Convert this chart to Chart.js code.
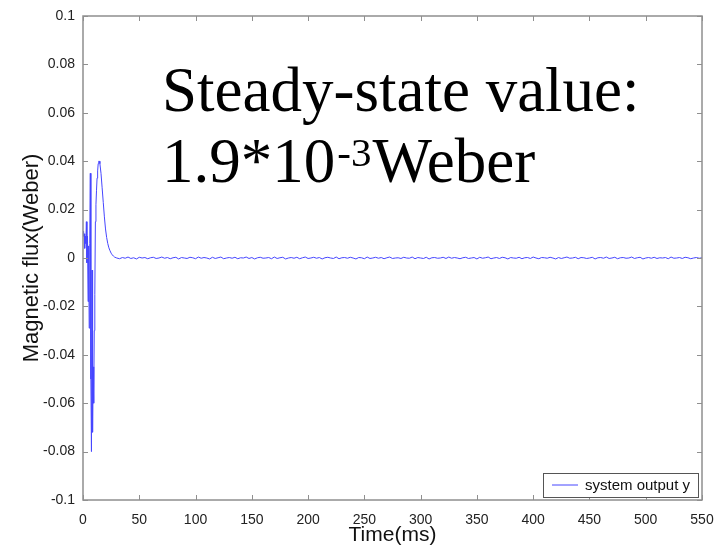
<!DOCTYPE html>
<html>
<head>
<meta charset="utf-8">
<script src="https://cdn.jsdelivr.net/npm/chart.js@4.4.1/dist/chart.umd.min.js"></script>
<style>
  html, body { margin: 0; padding: 0; background: #fff; }
  #wrap { width: 721px; height: 550px; }
</style>
</head>
<body>
<div id="wrap"><canvas id="chart" width="721" height="550"></canvas></div>
<script>
// transient part (ms, Weber)
const transientTime = [0, 0.5, 1, 1.5, 2, 2.5, 3, 3.5, 4, 4.5, 5, 5.5, 6, 6.5, 7, 7.5, 8, 8.5, 9, 9.5,
  10, 10.5, 11, 11.5, 12, 12.5, 13, 13.5, 14, 14.5, 15, 16, 17, 18, 19, 20, 21, 22, 23, 24, 25, 26, 27, 28];
const transientFlux = [0.011, 0.009, 0.010, 0.004, 0.009, 0.006, 0.015, -0.002, 0.009, -0.018,
  0.005, -0.029, 0.006, 0.035, -0.050, -0.080, -0.005, -0.072, -0.045, -0.060,
  -0.030, -0.015, 0.015, 0.022, 0.028, 0.033, 0.036, 0.039, 0.040, 0.040,
  0.039, 0.035, 0.029, 0.023, 0.017, 0.012, 0.0085, 0.006, 0.0042, 0.003, 0.002, 0.0013, 0.0008, 0.0004];

// steady part, one value every 2.5 ms from 30 ms
const steadyStart = 30;
const steadyStep = 2.5;
const steadyFlux = [
  0.0000, -0.0003, 0.0002, -0.0001, 0.0004, -0.0002, 0.0001, -0.0004, 0.0003, 0.0000,
  0.0002, -0.0003, 0.0001, 0.0003, -0.0002, 0.0000, 0.0004, -0.0001, 0.0002, -0.0003,
  0.0001, 0.0003, -0.0004, 0.0002, 0.0000, -0.0002, 0.0003, 0.0001, -0.0003, 0.0004,
  -0.0001, 0.0002, 0.0000, -0.0004, 0.0003, -0.0002, 0.0001, 0.0004, -0.0003, 0.0000,
  0.0002, -0.0001, 0.0003, -0.0003, 0.0001, 0.0000, 0.0004, -0.0002, 0.0002, -0.0004,
  0.0001, 0.0003, -0.0001, 0.0000, 0.0002, -0.0003, 0.0004, -0.0002, 0.0001, 0.0003,
  -0.0004, 0.0000, 0.0002, -0.0001, 0.0003, -0.0003, 0.0001, 0.0004, -0.0002, 0.0000,
  0.0003, -0.0001, 0.0002, -0.0004, 0.0001, 0.0003, 0.0000, -0.0002, 0.0004, -0.0003,
  0.0001, 0.0002, -0.0001, 0.0003, 0.0000, -0.0004, 0.0002, 0.0001, -0.0003, 0.0004,
  -0.0002, 0.0000, 0.0003, -0.0001, 0.0002, -0.0003, 0.0001, 0.0004, -0.0002, 0.0000,
  0.0001, -0.0002, 0.0003, 0.0000, -0.0001, 0.0004, -0.0003, 0.0002, 0.0000, -0.0002,
  0.0003, -0.0004, 0.0001, 0.0002, -0.0001, 0.0000, 0.0003, -0.0002, 0.0004, -0.0001,
  0.0002, 0.0000, -0.0003, 0.0001, 0.0003, -0.0002, 0.0000, 0.0002, -0.0004, 0.0003,
  -0.0001, 0.0001, 0.0004, -0.0003, 0.0000, 0.0002, -0.0002, 0.0003, 0.0001, -0.0004,
  0.0002, 0.0000, -0.0001, 0.0003, -0.0003, 0.0001, 0.0002, -0.0002, 0.0004, 0.0000,
  -0.0003, 0.0002, 0.0001, -0.0001, 0.0003, 0.0000, -0.0004, 0.0002, -0.0002, 0.0001,
  0.0004, -0.0001, 0.0000, 0.0003, -0.0003, 0.0002, 0.0001, -0.0002, 0.0000, 0.0003,
  -0.0004, 0.0001, 0.0002, -0.0001, 0.0004, -0.0002, 0.0000, 0.0003, -0.0003, 0.0001,
  0.0002, -0.0001, 0.0000, 0.0004, -0.0002, 0.0001, 0.0003, -0.0004, 0.0000, 0.0002,
  -0.0001, 0.0003, -0.0002, 0.0001, 0.0000, 0.0002, -0.0003, 0.0004, -0.0001, 0.0000,
  0.0002, -0.0002, 0.0003, 0.0001, -0.0003, 0.0000, 0.0002, -0.0001, 0.0001
];

const xTicks = { min: 0, max: 550, step: 50 };
const yTicks = { min: -0.1, max: 0.1, step: 0.02 };

const seriesLabel = 'system output y';
const lineColor = '#4646ff';
const frameColor = '#8f8f8f';

const points = [];
transientTime.forEach((t, i) => points.push({ x: t, y: transientFlux[i] }));
steadyFlux.forEach((v, i) => points.push({ x: steadyStart + i * steadyStep, y: v }));

const sansFont = "'Liberation Sans', Arial, sans-serif";
const serifFont = "'Liberation Serif', 'Times New Roman', serif";

// matlab style frame with inward ticks, legend box and the big note
const decorPlugin = {
  id: 'decor',
  afterDraw(chart) {
    const ctx = chart.ctx;
    const a = chart.chartArea;
    const xs = chart.scales.x, ys = chart.scales.y;
    ctx.save();
    ctx.strokeStyle = frameColor;
    ctx.lineWidth = 1.5;
    ctx.strokeRect(a.left, a.top, a.right - a.left, a.bottom - a.top);
    ctx.lineWidth = 1;
    ctx.beginPath();
    xs.ticks.forEach(tk => {
      const px = Math.round(xs.getPixelForValue(tk.value)) + 0.5;
      ctx.moveTo(px, a.bottom); ctx.lineTo(px, a.bottom - 5);
      ctx.moveTo(px, a.top); ctx.lineTo(px, a.top + 5);
    });
    ys.ticks.forEach(tk => {
      const py = Math.round(ys.getPixelForValue(tk.value)) + 0.5;
      ctx.moveTo(a.left, py); ctx.lineTo(a.left + 5, py);
      ctx.moveTo(a.right, py); ctx.lineTo(a.right - 5, py);
    });
    ctx.stroke();

    // legend
    const lw = 155, lh = 24;
    const lx = a.right - 159, ly = a.bottom - 27;
    ctx.fillStyle = '#fff';
    ctx.fillRect(lx, ly, lw, lh);
    ctx.strokeStyle = '#555';
    ctx.lineWidth = 1;
    ctx.strokeRect(lx + 0.5, ly + 0.5, lw, lh);
    ctx.strokeStyle = chart.data.datasets[0].borderColor;
    ctx.beginPath();
    ctx.moveTo(lx + 9, ly + 12); ctx.lineTo(lx + 35, ly + 12);
    ctx.stroke();
    ctx.fillStyle = '#111';
    ctx.font = '15px ' + sansFont;
    ctx.textBaseline = 'middle';
    ctx.fillText(chart.data.datasets[0].label, lx + 42, ly + 12.5);

    // note
    ctx.fillStyle = '#000';
    ctx.textBaseline = 'alphabetic';
    ctx.font = '63px ' + serifFont;
    ctx.fillText('Steady-state value:', 162, 111);
    ctx.fillText('1.9*10', 162, 182);
    let x = 162 + ctx.measureText('1.9*10').width + 2;
    ctx.font = '41px ' + serifFont;
    ctx.fillText('-3', x, 166);
    x += ctx.measureText('-3').width + 1;
    ctx.font = '63px ' + serifFont;
    ctx.fillText('Weber', x, 182);
    ctx.restore();
  }
};

new Chart(document.getElementById('chart'), {
  type: 'line',
  data: {
    datasets: [{
      label: seriesLabel,
      data: points,
      borderColor: lineColor,
      borderWidth: 1,
      pointRadius: 0,
      tension: 0,
      fill: false
    }]
  },
  options: {
    responsive: false,
    animation: false,
    layout: { padding: { top: 16, right: 19, left: 0, bottom: 0 } },
    plugins: { legend: { display: false }, tooltip: { enabled: false } },
    scales: {
      x: {
        type: 'linear',
        min: xTicks.min, max: xTicks.max,
        afterFit(s) { s.height = 50; s.paddingLeft = 0; s.paddingRight = 0; },
        border: { display: false },
        grid: { drawOnChartArea: false, drawTicks: false },
        ticks: {
          stepSize: xTicks.step, padding: 12, maxRotation: 0,
          color: '#222', font: { family: sansFont, size: 14 },
          callback: v => String(v)
        },
        title: {
          display: true, text: 'Time(ms)', color: '#111',
          font: { family: sansFont, size: 21 },
          padding: { top: 0, bottom: 2 }
        }
      },
      y: {
        type: 'linear',
        min: yTicks.min, max: yTicks.max,
        afterFit(s) { s.width = 83; s.paddingTop = 0; s.paddingBottom = 0; },
        border: { display: false },
        grid: { drawOnChartArea: false, drawTicks: false },
        ticks: {
          stepSize: yTicks.step, padding: 8,
          color: '#222', font: { family: sansFont, size: 14 },
          callback: v => String(Number(v.toFixed(2)))
        },
        title: {
          display: true, text: 'Magnetic flux(Weber)', color: '#111',
          font: { family: sansFont, size: 22 },
          padding: { top: 19, bottom: 0 }
        }
      }
    }
  },
  plugins: [decorPlugin]
});
</script>
</body>
</html>
